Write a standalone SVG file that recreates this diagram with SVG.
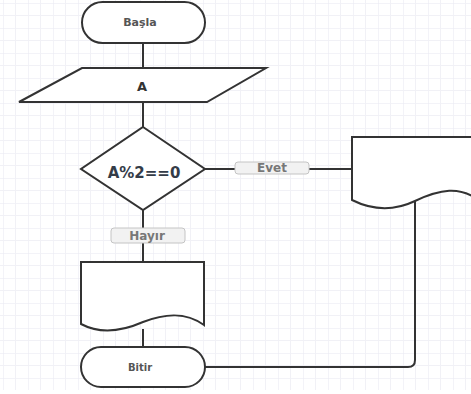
<svg xmlns="http://www.w3.org/2000/svg" width="471" height="394" viewBox="0 0 471 394">
<defs>
<pattern id="grid" x="3" y="3" width="25" height="25" patternUnits="userSpaceOnUse">
<path d="M0 0H25M0 0V25" fill="none" stroke="#e8e8f1" stroke-width="1"/>
<path d="M0 12.5H25M12.5 0V25" fill="none" stroke="#f1f1f6" stroke-width="1"/>
</pattern>
</defs>
<style>
.shape{fill:#fff;stroke:#333;stroke-width:2}
.line{fill:none;stroke:#333;stroke-width:2}
.t{font-family:"DejaVu Sans",Verdana,sans-serif;text-anchor:middle;dominant-baseline:central;font-weight:bold}
.lbl{fill:#f2f2f2;stroke:#c4c4c4;stroke-width:1}
.lt{font-size:12px;fill:#777}
</style>
<rect width="471" height="394" fill="#fff"/>
<rect x="0" y="0" width="471" height="390" fill="url(#grid)"/>
<g id="connectors">
<path class="line" d="M143 43V68"/>
<path class="line" d="M143 102V127"/>
<path class="line" d="M143 210V262"/>
<path class="line" d="M205 169H352"/>
<path class="line" d="M143 329V347"/>
<path class="line" d="M415 201V360Q415 367 408 367H205"/>
<rect class="lbl" x="235" y="162" width="74" height="12" rx="3"/>
<text class="t lt" x="272" y="168">Evet</text>
<rect class="lbl" x="111" y="228" width="74" height="15" rx="3"/>
<text class="t lt" x="147" y="235.5">Hayır</text>
</g>
<g id="start">
<rect class="shape" x="82" y="2" width="123" height="41" rx="20.5"/>
<text class="t" x="140" y="22.5" font-size="11" fill="#555">Başla</text>
</g>
<g id="input">
<path class="shape" d="M82 68H266L207 102H19Z"/>
<text class="t" x="142" y="86" font-size="13" fill="#333">A</text>
</g>
<g id="decision">
<path class="shape" d="M143 127L205 169L143 210L81 169Z"/>
<text class="t" x="144" y="172.5" font-size="15" fill="#343c48">A%2==0</text>
</g>
<g id="doc-yes">
<path class="shape" d="M352 137H478V200C460 186 440 189 415 201C392 212 372 210 352 200Z"/>
</g>
<g id="doc-no">
<path class="shape" d="M81 262H204V325C186 312 166 313 143 322C118 333 98 333 81 324Z"/>
</g>
<g id="end">
<rect class="shape" x="81" y="347" width="124" height="40" rx="20"/>
<text class="t" x="140" y="367.5" font-size="10" fill="#555">Bitir</text>
</g>
</svg>
